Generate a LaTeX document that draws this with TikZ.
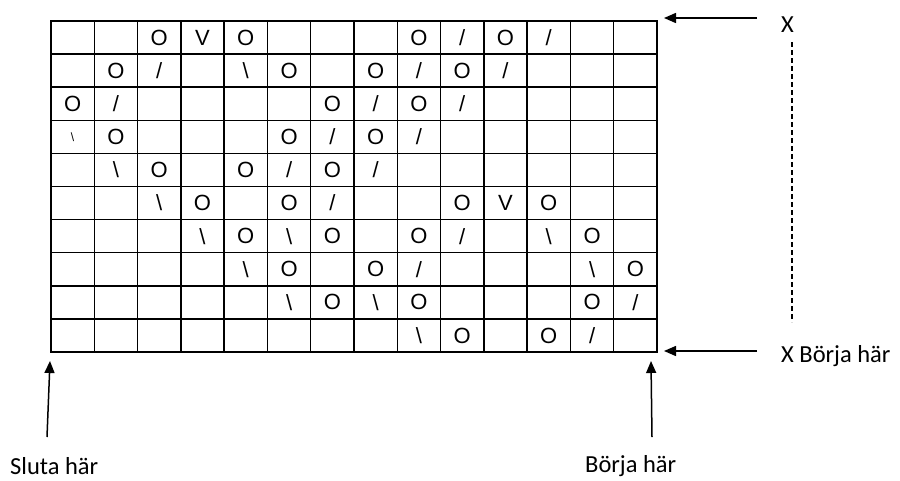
\documentclass[tikz,border=0pt]{standalone}
\usepackage{fontspec}
\setmainfont{Carlito}
\newfontfamily\chartfont{Liberation Sans}
\usetikzlibrary{arrows.meta}

\begin{document}
\begin{tikzpicture}[x=1pt, y=-1pt,
    gridline/.style={line width=1.5pt, draw=black, line cap=rect},
    stitch/.style={font=\chartfont\fontsize{22}{22}\selectfont, inner sep=0pt},
    note/.style={font=\fontsize{24.5}{27}\selectfont, inner sep=0pt, anchor=west},
    arrow/.style={-{Triangle[length=12pt, width=10pt]}, line width=1.5pt},
    repeatline/.style={dash pattern=on 5pt off 3pt, line width=1.1pt}
  ]
  \useasboundingbox (0,0) rectangle (900,480);
  % chart grid, 14 x 10
  \foreach \i in {0,...,14}
    \draw[gridline] ({51+\i*43.2857},21) -- ({51+\i*43.2857},352);
  \foreach \j in {0,...,10}
    \draw[gridline] (51,{21+\j*33.1}) -- (657,{21+\j*33.1});
  % stitches: column/row/symbol
  \foreach \c/\r/\t in {
      3/1/O, 4/1/V, 5/1/O, 9/1/O, 10/1/{/}, 11/1/O, 12/1/{/},
      2/2/O, 3/2/{/}, 5/2/{\textbackslash}, 6/2/O, 8/2/O, 9/2/{/}, 10/2/O, 11/2/{/},
      1/3/O, 2/3/{/}, 7/3/O, 8/3/{/}, 9/3/O, 10/3/{/},
      1/4/{\fontsize{12}{12}\selectfont\textbackslash}, 2/4/O, 6/4/O, 7/4/{/}, 8/4/O, 9/4/{/},
      2/5/{\textbackslash}, 3/5/O, 5/5/O, 6/5/{/}, 7/5/O, 8/5/{/},
      3/6/{\textbackslash}, 4/6/O, 6/6/O, 7/6/{/}, 10/6/O, 11/6/V, 12/6/O,
      4/7/{\textbackslash}, 5/7/O, 6/7/{\textbackslash}, 7/7/O, 9/7/O, 10/7/{/}, 12/7/{\textbackslash}, 13/7/O,
      5/8/{\textbackslash}, 6/8/O, 8/8/O, 9/8/{/}, 13/8/{\textbackslash}, 14/8/O,
      6/9/{\textbackslash}, 7/9/O, 8/9/{\textbackslash}, 9/9/O, 13/9/O, 14/9/{/},
      9/10/{\textbackslash}, 10/10/O, 12/10/O, 13/10/{/}}
    \node[stitch] (s-\r-\c) at ({51+(\c-0.5)*43.2857},{21+(\r-0.5)*33.1}) {\t};
  % labels
  \node[note] (topx) at (781,25) {X};
  \node[note] (startx) at (781,356) {X Börja här};
  \node[note] (stop) at (10,466) {Sluta här};
  \node[note] (start) at (585,466) {Börja här};
  % arrow ends
  \coordinate (topfrom) at (757,18);
  \coordinate (topto) at (664,18);
  \coordinate (rowfrom) at (757,351);
  \coordinate (rowto) at (664,351);
  \coordinate (stopfrom) at (47,437);
  \coordinate (stopto) at (50,361);
  \coordinate (startfrom) at (652,437);
  \coordinate (startto) at (651,361);
  \coordinate (dashtop) at (792,42);
  \coordinate (dashbot) at (792,322);
  \draw[arrow] (topfrom) -- (topto);
  \draw[arrow] (rowfrom) -- (rowto);
  \draw[arrow] (stopfrom) -- (stopto);
  \draw[arrow] (startfrom) -- (startto);
  \draw[repeatline] (dashtop) -- (dashbot);
\end{tikzpicture}
\end{document}
